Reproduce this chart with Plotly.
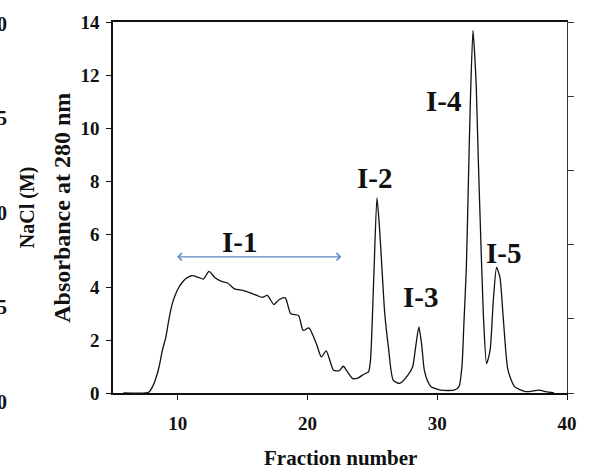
import plotly.graph_objects as go

# Chromatogram (absorbance at 280 nm vs fraction number)
fraction = [5.8, 7.5, 7.8, 8.05, 8.3, 8.56, 8.8, 9.07, 9.3, 9.57, 9.8, 10.08, 10.3, 10.58,
            11.09, 11.6, 11.97, 12.4, 12.85, 13.36, 13.86, 14.37, 15.0, 15.63, 16.1, 16.5,
            16.9, 17.4, 17.77, 18.28, 18.7, 19.3, 19.66, 20.1, 20.68, 21.06, 21.44, 22.0,
            22.45, 22.75, 23.08, 23.46, 23.83, 24.34, 24.7, 24.85, 25.1, 25.35, 25.55, 25.73,
            25.95, 26.23, 26.6, 27.1, 27.75, 28.1, 28.35, 28.58, 28.8, 29.0, 29.25, 29.52,
            30.27, 31.3, 31.67, 31.9, 32.05, 32.24, 32.4, 32.55, 32.75, 32.88, 33.0, 33.15,
            33.3, 33.56, 33.8, 34.07, 34.32, 34.57, 34.83, 35.08, 35.45, 35.96, 36.8, 37.85,
            38.36, 39.0]
absorbance = [0.0, 0.0, 0.05, 0.24, 0.55, 1.0, 1.6, 2.1, 2.75, 3.37, 3.7, 3.99, 4.15, 4.3,
              4.43, 4.36, 4.3, 4.59, 4.36, 4.21, 4.14, 3.93, 3.87, 3.77, 3.68, 3.61,
              3.68, 3.34, 3.51, 3.59, 2.99, 2.93, 2.36, 2.46, 1.86, 1.36, 1.59, 0.86,
              0.84, 1.01, 0.8, 0.55, 0.55, 0.71, 0.8, 1.24, 4.3, 7.37, 6.2, 4.74,
              3.0, 1.74, 0.49, 0.36, 0.68, 0.99, 1.8, 2.49, 1.8, 0.86, 0.45, 0.24,
              0.11, 0.11, 0.24, 0.99, 2.6, 4.74, 8.0, 11.0, 13.68, 12.8, 11.62, 9.0,
              6.63, 2.87, 1.11, 1.61, 3.49, 4.74, 4.36, 2.87, 0.86, 0.24, 0.05, 0.11,
              0.05, 0.0]

# Peak labels
peak_names = ["I-1", "I-2", "I-3", "I-4", "I-5"]
peak_label_x = [14.75, 25.17, 28.7, 30.48, 35.13]
peak_label_y = [5.68, 8.12, 3.61, 11.02, 5.3]

# Range of pooled fraction I-1 (double-headed arrow)
i1_start, i1_end, i1_level = 9.82, 22.6, 5.14

# Axis ticks
x_ticks = [10, 20, 30, 40]
y_ticks = [0, 2, 4, 6, 8, 10, 12, 14]
# Clipped NaCl axis tick labels visible at the far left edge
nacl_labels = ["2.0", "1.5", "1.0", "0.5", "0.0"]
nacl_label_paper_y = [0.995, 0.74, 0.485, 0.231, -0.024]

FONT = "Liberation Serif"

fig = go.Figure()
fig.add_trace(go.Scatter(x=fraction, y=absorbance, mode="lines",
                         line=dict(color="#111111", width=1.3, shape="spline", smoothing=0.6),
                         showlegend=False, hoverinfo="skip"))
# invisible trace for the right axis
fig.add_trace(go.Scatter(x=[None], y=[None], yaxis="y2", showlegend=False))

for name, px, py in zip(peak_names, peak_label_x, peak_label_y):
    fig.add_annotation(x=px, y=py, text=name, showarrow=False,
                       font=dict(family=FONT, size=29, color="#111111", weight="bold"))

fig.add_annotation(x=i1_end, y=i1_level, ax=i1_start, ay=i1_level, axref="x", ayref="y",
                   xref="x", yref="y", text="", showarrow=True,
                   arrowhead=4, startarrowhead=4, arrowside="end+start",
                   arrowsize=1.1, startarrowsize=1.1, arrowwidth=1.3,
                   arrowcolor="#5B8AC4", standoff=0, startstandoff=0)

for lab, py in zip(nacl_labels, nacl_label_paper_y):
    fig.add_annotation(x=-0.228, y=py, xref="paper", yref="paper", text=lab,
                       showarrow=False, xanchor="right", yanchor="middle",
                       font=dict(family=FONT, size=20, color="#111111", weight="bold"))

fig.add_annotation(x=-0.188, y=0.5, xref="paper", yref="paper", text="NaCl (M)",
                   textangle=-90, showarrow=False, xanchor="center", yanchor="middle",
                   font=dict(family=FONT, size=20, color="#111111", weight="bold"))
fig.add_annotation(x=-0.114, y=0.5, xref="paper", yref="paper", text="Absorbance at 280 nm",
                   textangle=-90, showarrow=False, xanchor="center", yanchor="middle",
                   font=dict(family=FONT, size=24, color="#111111", weight="bold"))
fig.add_annotation(x=0.5, y=-0.175, xref="paper", yref="paper", text="Fraction number",
                   showarrow=False, xanchor="center", yanchor="middle",
                   font=dict(family=FONT, size=21, color="#111111", weight="bold"))

fig.update_layout(
    width=589, height=473,
    margin=dict(l=113, r=14, t=20, b=80),
    paper_bgcolor="white", plot_bgcolor="white",
    font=dict(family=FONT, size=19, color="#111111", weight="bold"),
    xaxis=dict(range=[5, 40], tickvals=x_ticks, ticks="outside", ticklen=5,
               tickcolor="#111111", showline=True, linecolor="#111111", linewidth=1.5,
               mirror=True, showgrid=False, zeroline=False, ticklabelstandoff=7,
               tickfont=dict(family=FONT, size=19, color="#111111", weight="bold")),
    yaxis=dict(range=[0, 14], tickvals=y_ticks, ticks="outside", ticklen=5,
               tickcolor="#111111", showline=True, linecolor="#111111", linewidth=1.5,
               showgrid=False, zeroline=False, ticklabelstandoff=3,
               tickfont=dict(family=FONT, size=19, color="#111111", weight="bold")),
    yaxis2=dict(range=[0, 5], dtick=1, overlaying="y", side="right", ticks="outside",
                ticklen=6, tickcolor="#333333", showline=True, linecolor="#333333",
                linewidth=1.3, showticklabels=False, showgrid=False, zeroline=False),
)

fig.write_html("out.html", config={"displayModeBar": False},
               post_script="document.body.style.margin='0';document.body.style.overflow='hidden';")
